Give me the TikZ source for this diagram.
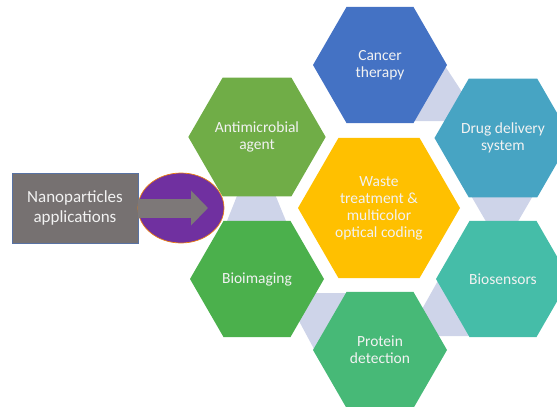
\documentclass[tikz,border=0pt]{standalone}
\usepackage{fontspec}
\setmainfont{Carlito}
\usetikzlibrary{shapes,arrows.meta,positioning}
\definecolor{cblue}{HTML}{4472C4}
\definecolor{cgreen}{HTML}{70AD47}
\definecolor{cteal}{HTML}{47A4C3}
\definecolor{cgold}{HTML}{FFC000}
\definecolor{cleaf}{HTML}{4BB04C}
\definecolor{cmint}{HTML}{45BDA8}
\definecolor{cjade}{HTML}{47B977}
\definecolor{lavender}{HTML}{CED4E9}
\definecolor{slate}{HTML}{767171}
\definecolor{plum}{HTML}{7030A0}
\definecolor{txt}{HTML}{F2F2F2}
\tikzset{
    hexa/.style={regular polygon,regular polygon sides=6,draw=none,minimum size=134pt,inner sep=0pt,outer sep=0pt,align=center,text=txt,font=\fontsize{15.5}{17}\selectfont},
    bighexa/.style={hexa,minimum size=162pt},
    tri/.style={fill=lavender},
    box/.style={draw=cblue!60!slate,line width=0.6pt,fill=slate,minimum width=126pt,minimum height=70pt,inner sep=0pt,outer sep=0pt,align=center,text=txt,font=\fontsize{17}{20}\selectfont},
    oval/.style={draw=orange!70!brown,line width=0.7pt,fill=plum,ellipse,minimum width=86pt,minimum height=70pt,inner sep=0pt,outer sep=0pt},
    block/.style={line width=19pt,draw=slate!95!white,-{Triangle[width=34pt,length=17pt]}},
}
\begin{document}
\begin{tikzpicture}[x=1pt,y=-1pt]
    \clip (0,0) rectangle (557,407);
    % lavender wedges in the gaps
    \fill[tri] (409,121) -- (481,121) -- (445,66) -- cycle;
    \fill[tri] (227,221) -- (286,221) -- (256,148) -- cycle;
    \fill[tri] (470,194) -- (534,194) -- (502,249) -- cycle;
    \fill[tri] (284,293) -- (348,293) -- (314,349) -- cycle;
    \fill[tri] (407,336) -- (473,336) -- (440,277) -- cycle;
    % hexagons
    \node[bighexa,fill=cgold] (waste) at (379,208) {Waste\\treatment \&\\multicolor\\optical coding};
    \node[hexa,fill=cblue] (cancer) at (380,65) {Cancer\\therapy};
    \node[hexa,fill=cgreen] (antimicro) at (257,137) {Antimicrobial\\agent};
    \node[hexa,fill=cteal] (drug) at (503,138) {Drug delivery\\system};
    \node[hexa,fill=cleaf] (bioimg) at (257,279) {Bioimaging};
    \node[hexa,fill=cmint] (biosens) at (503,279) {Biosensors};
    \node[hexa,fill=cjade] (protein) at (380,350) {Protein\\detection};
    % input box and arrow
    \node[box] (nano) at (75,208) {Nanoparticles\\applications};
    \node[oval,right=0pt of nano] (disc) {};
    \coordinate (tip) at (208,208);
    \draw[block] (nano.east) -- (tip);
\end{tikzpicture}
\end{document}
